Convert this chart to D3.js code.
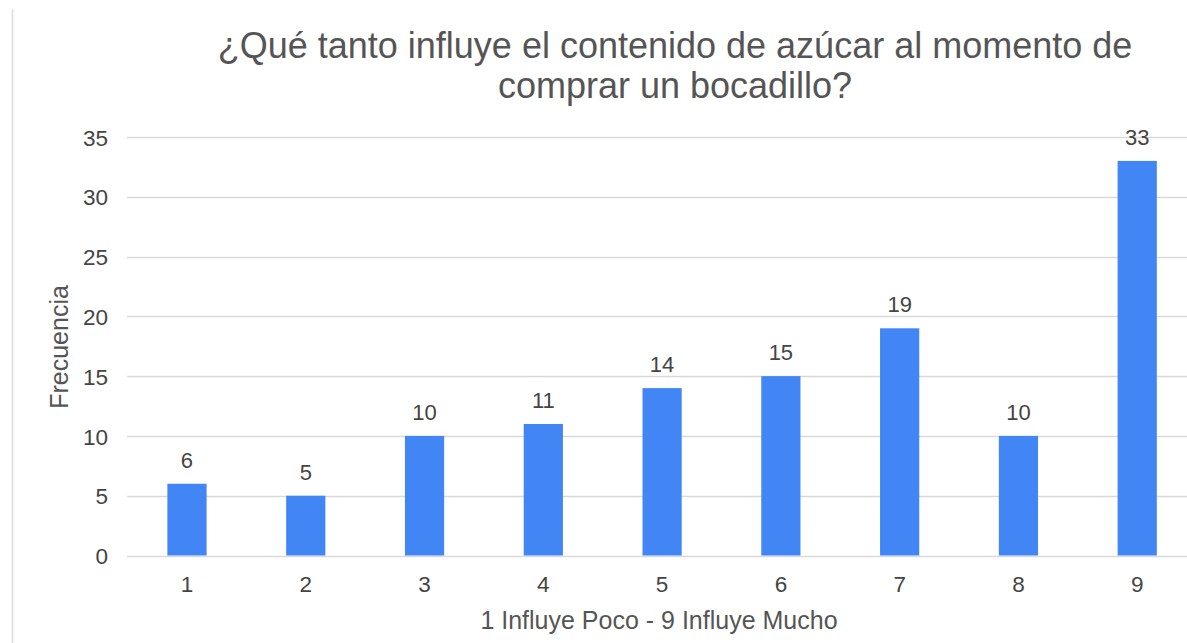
<!DOCTYPE html>
<html>
<head>
<meta charset="utf-8">
<script src="https://cdn.jsdelivr.net/npm/d3@7"></script>
<style>
  body { margin: 0; background: #fff; }
  svg { display: block; }
  text { font-family: Arial, "Liberation Sans", sans-serif; }
</style>
</head>
<body>
<div id="chart"></div>
<script>
// chart values
const categories = ["1", "2", "3", "4", "5", "6", "7", "8", "9"];
const frequencies = [6, 5, 10, 11, 14, 15, 19, 10, 33];
const yTicks = [0, 5, 10, 15, 20, 25, 30, 35];
const titleLines = ["¿Qué tanto influye el contenido de azúcar al momento de", "comprar un bocadillo?"];
const xTitle = "1 Influye Poco - 9 Influye Mucho";
const yTitle = "Frecuencia";

const width = 1187;
const height = 643;
const barColor = "#4285f4";
const gridColor = "#d9d9d9";
const textColor = "#444";

const svg = d3.select("#chart")
    .append("svg")
    .attr("width", width)
    .attr("height", height);

// card border on the left
svg.append("line")
    .attr("x1", 12.5).attr("x2", 12.5)
    .attr("y1", 9).attr("y2", height)
    .attr("stroke", "#dcdcdc")
    .attr("stroke-width", 1.5);

// x scale: plot runs past the right edge of the picture
var x = d3.scaleBand()
    .domain(categories)
    .range([127.6, 1196.6])
    .paddingInner(0.67)
    .paddingOuter(0.335);

var y = d3.scaleLinear()
    .domain([0, 35])
    .range([555.5, 137]);

// gridlines
svg.append("g")
    .selectAll("line")
    .data(yTicks)
    .enter()
    .append("line")
    .attr("x1", 127)
    .attr("x2", width)
    .attr("y1", d => Math.round(y(d)) + 0.5)
    .attr("y2", d => Math.round(y(d)) + 0.5)
    .attr("stroke", gridColor)
    .attr("stroke-width", 1.5);

// y axis labels
var y_axis = d3.axisLeft(y)
    .tickValues(yTicks)
    .tickSize(0)
    .tickPadding(0);

svg.append("g")
    .attr("transform", "translate(108, 0)")
    .call(y_axis)
    .call(g => g.select(".domain").remove())
    .call(g => g.selectAll("text")
        .attr("fill", textColor)
        .style("font-size", "22.5px")
        .attr("dy", "0.36em"));

// x axis labels
var x_axis = d3.axisBottom(x)
    .tickSize(0)
    .tickPadding(0);

svg.append("g")
    .attr("transform", "translate(0, 592)")
    .call(x_axis)
    .call(g => g.select(".domain").remove())
    .call(g => g.selectAll("text")
        .attr("fill", textColor)
        .style("font-size", "22.5px")
        .attr("y", 0)
        .attr("dy", 0));

// bars
svg.append("g")
    .attr("fill", barColor)
    .selectAll("rect")
    .data(frequencies)
    .enter()
    .append("rect")
    .attr("x", (d, i) => x(categories[i]))
    .attr("y", d => y(d))
    .attr("width", x.bandwidth())
    .attr("height", d => y(0) - y(d));

// value labels
svg.append("g")
    .selectAll("text")
    .data(frequencies)
    .enter()
    .append("text")
    .attr("x", (d, i) => x(categories[i]) + x.bandwidth() / 2)
    .attr("y", d => y(d) - 16)
    .attr("text-anchor", "middle")
    .attr("fill", textColor)
    .style("font-size", "22px")
    .text(d => d);

// title
svg.append("g")
    .selectAll("text")
    .data(titleLines)
    .enter()
    .append("text")
    .attr("x", 675)
    .attr("y", (d, i) => 58 + i * 40)
    .attr("text-anchor", "middle")
    .attr("fill", "#555")
    .style("font-size", "36px")
    .text(d => d);

// axis titles
svg.append("text")
    .attr("x", 659)
    .attr("y", 629)
    .attr("text-anchor", "middle")
    .attr("fill", "#555")
    .style("font-size", "25px")
    .text(xTitle);

svg.append("text")
    .attr("transform", "translate(68, 347) rotate(-90)")
    .attr("text-anchor", "middle")
    .attr("fill", "#555")
    .style("font-size", "25px")
    .text(yTitle);
</script>
</body>
</html>
